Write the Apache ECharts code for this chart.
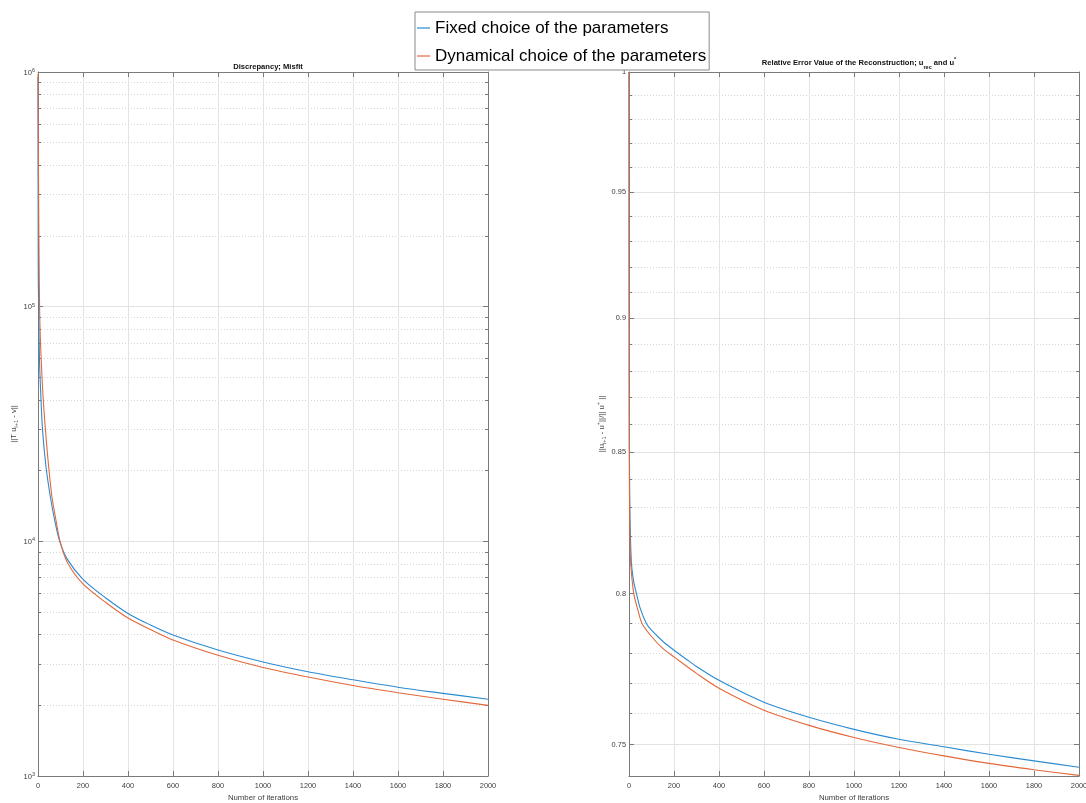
<!DOCTYPE html>
<html>
<head>
<meta charset="utf-8">
<script src="https://cdn.jsdelivr.net/npm/echarts@6.0.0/dist/echarts.min.js"></script>
<style>html,body{margin:0;padding:0;background:#fff;}#chart{width:1086px;height:803px;}</style>
</head>
<body>
<div id="chart"></div>
<script>
// ---------------- DATA ----------------
const seriesNames = ['Fixed choice of the parameters', 'Dynamical choice of the parameters'];
const xTicks = [0, 200, 400, 600, 800, 1000, 1200, 1400, 1600, 1800, 2000];

// Left panel: Discrepancy; Misfit (log scale)
const discFixedIter = [0, 1, 3, 7, 12, 20, 35, 55, 75, 95, 130, 200, 300, 400, 500, 600, 800, 1000, 1200, 1400, 1600, 1800, 2000];
const discFixedVal  = [950000, 150000, 95000, 57500, 43000, 30000, 21000, 15450, 12200, 10100, 8400, 6890, 5750, 4930, 4400, 3990, 3440, 3060, 2780, 2570, 2390, 2250, 2124];
const discDynIter = [0, 2, 4, 7, 10, 15, 22, 33, 45, 62, 80, 98, 130, 200, 300, 400, 500, 600, 800, 1000, 1200, 1400, 1600, 1800, 2000];
const discDynVal  = [980000, 400000, 200000, 100000, 75000, 57500, 42000, 30000, 22000, 15450, 12300, 10000, 8150, 6580, 5500, 4710, 4210, 3800, 3270, 2900, 2640, 2430, 2265, 2124, 2000];
const discMinorTicks = [2000, 3000, 4000, 5000, 6000, 7000, 8000, 9000,
  20000, 30000, 40000, 50000, 60000, 70000, 80000, 90000,
  200000, 300000, 400000, 500000, 600000, 700000, 800000, 900000];

// Right panel: Relative error (log scale)
const relFixedIter = [0, 1, 3, 10, 20, 33, 50, 77, 100, 150, 200, 255, 300, 400, 600, 800, 1000, 1200, 1400, 1600, 1800, 2000];
const relFixedVal  = [1.0, 0.88, 0.835, 0.8115, 0.8046, 0.8001, 0.7950, 0.7899, 0.7876, 0.7839, 0.7809, 0.7779, 0.7755, 0.7709, 0.7637, 0.7588, 0.7549, 0.7517, 0.7493, 0.7469, 0.7448, 0.7428];
const relDynIter = [0, 1, 3, 7, 21, 40, 58, 100, 150, 203, 300, 400, 600, 800, 1000, 1200, 1400, 1600, 1800, 2000];
const relDynVal  = [1.0, 0.86, 0.825, 0.8115, 0.8001, 0.7943, 0.7899, 0.7855, 0.7815, 0.7785, 0.7732, 0.7683, 0.7611, 0.7562, 0.7523, 0.7491, 0.7464, 0.7440, 0.7420, 0.7402];
const relMajorTicks = [0.75, 0.8, 0.85, 0.9, 0.95, 1];
const relMinorTicks = [0.74, 0.76, 0.77, 0.78, 0.79, 0.81, 0.82, 0.83, 0.84, 0.86, 0.87, 0.88, 0.89,
  0.91, 0.92, 0.93, 0.94, 0.96, 0.97, 0.98, 0.99];

// ---------------- STYLE ----------------
function fontAvailable(name) {
  const ctx = document.createElement('canvas').getContext('2d');
  const s = 'Dynamical choice of the parameters 0123456789';
  ctx.font = '40px monospace';
  const a = ctx.measureText(s).width;
  ctx.font = "40px '" + name + "', monospace";
  const b = ctx.measureText(s).width;
  return Math.abs(a - b) > 1;
}
const NARROW = fontAvailable('Liberation Sans Narrow');
const FONT = NARROW ? 'Liberation Sans Narrow' : 'Liberation Sans';
const K = NARROW ? 1 : 0.84;
const fs = n => Math.round(n * K * 10) / 10;

const BLUE = '#2b8bd2';
const ORANGE = '#e2683a';
const AXIS = '#7a7a7a';
const LABEL = '#404040';
const GRID = '#e3e3e3';
const MINOR = '#d6d6d6';

const pairs = (xs, ys) => xs.map((x, i) => [x, ys[i]]);

function xAxesFor(grid) {
  return [
    {
      type: 'value', gridIndex: grid, position: 'bottom', min: 0, max: 2000, interval: 200,
      axisLine: { show: true, onZero: false, lineStyle: { color: AXIS, width: 1 } },
      axisTick: { show: true, inside: true, length: 5, lineStyle: { color: AXIS } },
      axisLabel: { show: true, margin: 6, fontSize: fs(8.8), color: LABEL, fontFamily: FONT, formatter: v => String(v) },
      splitLine: { show: true, lineStyle: { color: GRID, width: 1 } },
      name: 'Number of iterations', nameLocation: 'middle', nameGap: 17,
      nameTextStyle: { fontSize: fs(9.3), color: LABEL, fontFamily: FONT }
    },
    {
      type: 'value', gridIndex: grid, position: 'top', min: 0, max: 2000, interval: 200,
      axisLine: { show: true, onZero: false, lineStyle: { color: AXIS, width: 1 } },
      axisTick: { show: true, inside: true, length: 5, lineStyle: { color: AXIS } },
      axisLabel: { show: false },
      splitLine: { show: false }
    }
  ];
}

function yAxesFor(grid, min, max, majorTicks, minorTicks, labelOpts, nameOpts) {
  const base = { type: 'log', logBase: 10, gridIndex: grid, min: min, max: max };
  const major = majorTicks ? { customValues: majorTicks } : {};
  return [
    Object.assign({}, base, {
      position: 'left',
      axisLine: { show: true, onZero: false, lineStyle: { color: AXIS, width: 1 } },
      axisTick: Object.assign({ show: true, inside: true, length: 5, lineStyle: { color: AXIS } }, major),
      axisLabel: Object.assign({ show: true, fontFamily: FONT, color: LABEL }, major, labelOpts),
      splitLine: { show: true, lineStyle: { color: GRID, width: 1 } },
      minorTick: { show: false }, minorSplitLine: { show: false }
    }, nameOpts),
    Object.assign({}, base, {
      position: 'right',
      axisLine: { show: true, onZero: false, lineStyle: { color: AXIS, width: 1 } },
      axisTick: Object.assign({ show: true, inside: true, length: 5, lineStyle: { color: AXIS } }, major),
      axisLabel: { show: false }, splitLine: { show: false }
    }),
    Object.assign({}, base, {
      position: 'left',
      axisLine: { show: false, onZero: false },
      axisTick: { show: true, inside: true, length: 3, lineStyle: { color: AXIS }, customValues: minorTicks },
      axisLabel: { show: false },
      splitLine: { show: true, lineStyle: { color: MINOR, width: 1, type: [1, 2] } }
    }),
    Object.assign({}, base, {
      position: 'right',
      axisLine: { show: false, onZero: false },
      axisTick: { show: true, inside: true, length: 3, lineStyle: { color: AXIS }, customValues: minorTicks },
      axisLabel: { show: false }, splitLine: { show: false }
    })
  ];
}

const lineSeries = (name, color, xi, yi, data) => ({
  type: 'line', name: name, xAxisIndex: xi, yAxisIndex: yi, data: data,
  showSymbol: false, symbol: 'none', smooth: 0.3,
  lineStyle: { color: color, width: 1.1 }, itemStyle: { color: color },
  emphasis: { disabled: true }
});

const chart = echarts.init(document.getElementById('chart'), null, { renderer: 'canvas' });
const option = {
  animation: false,
  backgroundColor: '#ffffff',
  title: [
    {
      text: 'Discrepancy; Misfit', left: 263, top: 58, textAlign: 'center',
      textStyle: { fontSize: fs(9), fontWeight: 'bold', color: '#111', fontFamily: FONT }
    },
    {
      text: 'Relative Error Value of the Reconstruction; u{sub|rec} and u{sup|*}', left: 854, top: 51, textAlign: 'center',
      textStyle: {
        fontSize: fs(9), fontWeight: 'bold', color: '#111', fontFamily: FONT, lineHeight: 14,
        rich: {
          sub: { fontSize: fs(6.5), fontWeight: 'bold', color: '#111', fontFamily: FONT, lineHeight: 6, verticalAlign: 'bottom' },
          sup: { fontSize: fs(6.5), fontWeight: 'bold', color: '#111', fontFamily: FONT, lineHeight: 6, verticalAlign: 'top' }
        }
      }
    }
  ],
  legend: {
    data: seriesNames, orient: 'vertical', left: 415, top: 12,
    padding: [4, 3, 2, 2], itemGap: 4, itemWidth: 13, itemHeight: 1.2, icon: 'rect',
    borderColor: '#8a8a8a', borderWidth: 1, backgroundColor: '#ffffff',
    textStyle: { fontSize: fs(20.2), color: '#000', fontFamily: FONT, lineHeight: 24 },
    selectedMode: false
  },
  grid: [
    { left: 38, top: 72, width: 450, height: 704, outerBoundsMode: 'none', containLabel: false },
    { left: 629, top: 72, width: 450, height: 704, outerBoundsMode: 'none', containLabel: false }
  ],
  xAxis: xAxesFor(0).concat(xAxesFor(1)),
  yAxis: yAxesFor(0, 1000, 1000000, null, discMinorTicks,
    {
      margin: 3,
      formatter: v => '{b|10}{s|' + Math.round(Math.log10(v)) + '}',
      rich: {
        b: { fontSize: fs(9), color: LABEL, fontFamily: FONT, lineHeight: 9, verticalAlign: 'bottom' },
        s: { fontSize: fs(6.5), color: LABEL, fontFamily: FONT, lineHeight: 6, verticalAlign: 'top' }
      }
    },
    {
      name: '||T u{sub|i+1} - v||', nameLocation: 'middle', nameGap: 17, nameRotate: 90,
      nameTextStyle: {
        fontSize: fs(9.3), color: LABEL, fontFamily: FONT, lineHeight: 12,
        rich: { sub: { fontSize: fs(6.5), color: LABEL, fontFamily: FONT, lineHeight: 6, verticalAlign: 'bottom' } }
      }
    }
  ).concat(yAxesFor(1, 0.74, 1, relMajorTicks, relMinorTicks,
    { margin: 3, fontSize: fs(8.8), formatter: v => String(+v.toFixed(2)) },
    {
      name: '||u{sub|i+1} - u{sup|+}||/|| u{sup|+} ||', nameLocation: 'middle', nameGap: 17, nameRotate: 90,
      nameTextStyle: {
        fontSize: fs(9.3), color: LABEL, fontFamily: FONT, lineHeight: 12,
        rich: {
          sub: { fontSize: fs(6.5), color: LABEL, fontFamily: FONT, lineHeight: 6, verticalAlign: 'bottom' },
          sup: { fontSize: fs(6.5), color: LABEL, fontFamily: FONT, lineHeight: 6, verticalAlign: 'top' }
        }
      }
    }
  )),
  series: [
    lineSeries(seriesNames[0], BLUE, 0, 0, pairs(discFixedIter, discFixedVal)),
    lineSeries(seriesNames[1], ORANGE, 0, 0, pairs(discDynIter, discDynVal)),
    lineSeries(seriesNames[0], BLUE, 2, 4, pairs(relFixedIter, relFixedVal)),
    lineSeries(seriesNames[1], ORANGE, 2, 4, pairs(relDynIter, relDynVal))
  ]
};
chart.setOption(option);
</script>
</body>
</html>
